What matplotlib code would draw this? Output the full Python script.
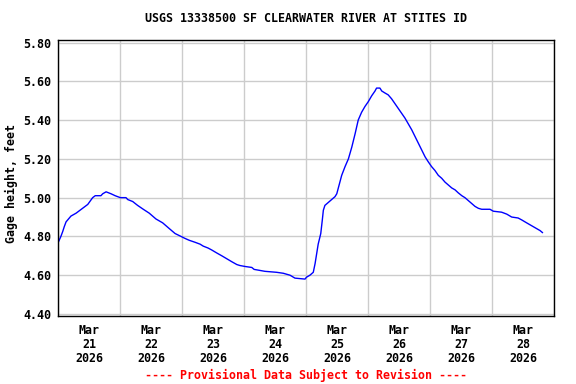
import matplotlib
matplotlib.use("Agg")
import matplotlib.pyplot as plt
import matplotlib.dates as mdates
import pandas as pd

# hours since 2026-03-21 00:00 and gage height (ft)
hours = [0, 1.0, 1.7, 2.3, 3.0, 4.9, 6.9, 9.4, 11.4, 13.3, 14.3, 16.5, 17.2, 18.5, 20.4, 22.0,
         24.0, 26.2, 26.9, 28.8, 30.7, 32.9, 35.2, 37.8, 40.4, 43.0, 45.2, 47.5, 49.0, 50.7,
         52.9, 54.9, 56.1, 58.0, 59.4, 61.3, 63.3, 65.2, 67.1, 69.1, 70.3, 72.3, 74.9, 75.8,
         80.0, 84.5, 87.1, 89.7, 91.6, 95.5, 96.1, 97.4, 98.7, 99.4, 100.0, 100.6, 101.6,
         102.2, 102.6, 103.2, 104.5, 105.8, 107.1, 107.8, 108.8, 109.7, 111.0, 112.3, 113.6,
         114.9, 116.1, 117.4, 118.7, 120.0, 121.3, 122.6, 123.2, 124.5, 125.2, 126.4, 127.7,
         129.0, 130.3, 131.6, 132.9, 134.2, 135.5, 136.8, 138.1, 139.4, 140.7, 142.0, 143.2,
         144.5, 145.8, 147.1, 148.4, 149.7, 151.0, 152.3, 153.6, 154.8, 156.2, 157.4, 158.7,
         160.0, 161.3, 162.6, 163.9, 167.1, 168.4, 171.6, 173.6, 175.5, 178.0, 179.4, 181.3,
         182.6, 183.9, 185.2, 186.5, 187.4]
gage = [4.77, 4.80, 4.825, 4.85, 4.875, 4.905, 4.92, 4.945, 4.965, 5.00, 5.01, 5.01, 5.02, 5.03,
        5.02, 5.01, 5.00, 5.00, 4.99, 4.98, 4.96, 4.94, 4.92, 4.89, 4.87, 4.84, 4.815, 4.80,
        4.79, 4.78, 4.77, 4.76, 4.75, 4.74, 4.73, 4.715, 4.70, 4.685, 4.67, 4.655, 4.65, 4.645,
        4.64, 4.63, 4.62, 4.615, 4.61, 4.60, 4.585, 4.58, 4.59, 4.60, 4.615, 4.66, 4.71, 4.76,
        4.815, 4.885, 4.935, 4.96, 4.975, 4.99, 5.005, 5.02, 5.07, 5.115, 5.16, 5.20, 5.26,
        5.33, 5.40, 5.44, 5.47, 5.495, 5.525, 5.55, 5.565, 5.565, 5.55, 5.54, 5.53, 5.51,
        5.485, 5.46, 5.435, 5.41, 5.38, 5.35, 5.315, 5.28, 5.245, 5.21, 5.185, 5.16, 5.14,
        5.115, 5.10, 5.08, 5.065, 5.05, 5.04, 5.025, 5.01, 5.00, 4.985, 4.97, 4.955, 4.945,
        4.94, 4.94, 4.93, 4.925, 4.915, 4.90, 4.895, 4.885, 4.87, 4.86, 4.85, 4.84, 4.83, 4.82]

title = "USGS 13338500 SF CLEARWATER RIVER AT STITES ID"
ylabel = "Gage height, feet"
footnote = "---- Provisional Data Subject to Revision ----"
yticks = [4.40, 4.60, 4.80, 5.00, 5.20, 5.40, 5.60, 5.80]

start = pd.Timestamp("2026-03-21")
times = start + pd.to_timedelta(hours, unit="h")

font = dict(family="DejaVu Sans Mono", weight="bold", size=8.4)

W, H = 576, 384
fig = plt.figure(figsize=(W / 100, H / 100), dpi=100)
L, R, T, B = 58.3, 554.3, 39.5, 315.7
ax = fig.add_axes([L / W, 1 - B / H, (R - L) / W, (B - T) / H])

ax.plot(times, gage, color="#0000FF", lw=1.0)

ax.set_xlim(start, start + pd.Timedelta(days=8))
ax.set_ylim(4.3912, 5.8155)

ax.set_yticks(yticks)
ax.set_yticklabels([f"{v:.2f}" for v in yticks], **font)

ax.xaxis.set_major_locator(mdates.DayLocator())
ax.xaxis.set_major_formatter(plt.NullFormatter())
ax.xaxis.set_minor_locator(mdates.HourLocator(byhour=[12]))
ax.xaxis.set_minor_formatter(mdates.DateFormatter("%b\n%d\n%Y"))
for lab in ax.xaxis.get_minorticklabels():
    lab.set_fontfamily("DejaVu Sans Mono")
    lab.set_fontweight("bold")
    lab.set_fontsize(8.4)
    lab.set_linespacing(1.1)

ax.tick_params(axis="both", which="both", length=0)
ax.tick_params(axis="y", pad=5)
ax.tick_params(axis="x", which="minor", pad=6)

ax.grid(True, which="major", color="#CCCCCC", lw=1.0)
ax.set_axisbelow(True)
for s in ax.spines.values():
    s.set_color("black")
    s.set_linewidth(1.0)

ax.set_ylabel(ylabel, **font)
ax.yaxis.set_label_coords((18.5 - L) / (R - L), 0.48)

fig.text(306 / W, 1 - 19 / H, title, ha="center", va="center", **font)
fig.text(306 / W, 1 - 375 / H, footnote, ha="center", va="center", color="red", **font)

fig.savefig("out.png", dpi=100)
